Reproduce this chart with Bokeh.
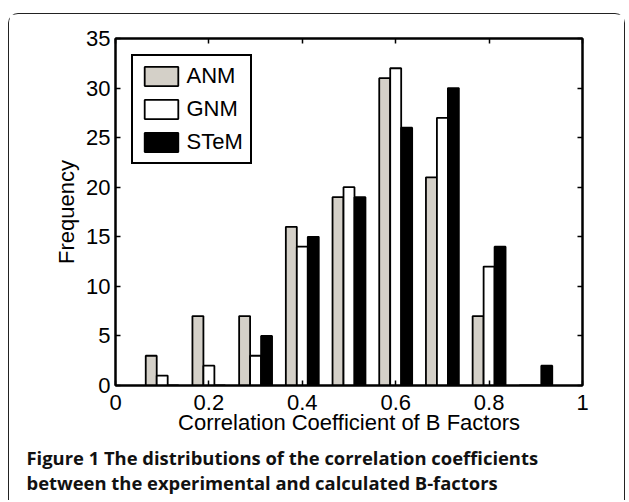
from bokeh.plotting import figure
from bokeh.models import (LinearAxis, Legend, LegendItem, Title,
                          Range1d, FixedTicker, ColumnDataSource)
from bokeh.transform import dodge
from bokeh.embed import file_html
from bokeh.resources import INLINE

# ---------------- data ----------------
bin_centers = [0.1, 0.2, 0.3, 0.4, 0.5, 0.6, 0.7, 0.8, 0.9]
anm = [3, 7, 7, 16, 19, 31, 21, 7, 0]
gnm = [1, 2, 3, 14, 20, 32, 27, 12, 0]
stem = [0, 0, 5, 15, 19, 26, 30, 14, 2]
series_names = ["ANM", "GNM", "STeM"]
series_colors = ["#d4d0c8", "#ffffff", "#000000"]
x_ticks = [0, 0.2, 0.4, 0.6, 0.8, 1]
x_tick_labels = ["0", "0.2", "0.4", "0.6", "0.8", "1"]
y_ticks = [0, 5, 10, 15, 20, 25, 30, 35]
x_label = "Correlation Coefficient of B Factors"
y_label = "Frequency"
caption_line1 = "Figure 1 The distributions of the correlation coefficients"
caption_line2 = "between the experimental and calculated B-factors"

FONT = "Liberation Sans"
CAP_FONT = "Open Sans"
FS = "22px"

W, H = 617, 487
ML, MR, MT, MB = 106, 44, 24, 116

p = figure(width=W, height=H, x_range=Range1d(0, 1), y_range=Range1d(0, 35),
           output_backend="svg", toolbar_location=None,
           min_border_left=ML, min_border_right=MR, min_border_top=MT,
           min_border_bottom=MB)
p.styles = {"margin-left": "7.5px", "margin-top": "12.5px",
            "border": "1.5px solid #222222", "border-bottom": "none",
            "border-radius": "10px 10px 0 0"}
p.grid.visible = False
p.outline_line_color = "black"
p.outline_line_width = 2
p.background_fill_color = "white"
p.border_fill_color = "white"

src = ColumnDataSource(dict(x=bin_centers, anm=anm, gnm=gnm, stem=stem))
bw = 0.0235
offsets = [-bw, 0.0, bw]
cols = ["anm", "gnm", "stem"]
renderers = []
for col, off, color in zip(cols, offsets, series_colors):
    r = p.vbar(x=dodge("x", off), top=col, bottom=0, width=bw, source=src,
               fill_color=color, line_color="black", line_width=1.8)
    renderers.append(r)

xa = p.xaxis[0]
xa.ticker = FixedTicker(ticks=x_ticks)
xa.major_label_overrides = {t: s for t, s in zip(x_ticks, x_tick_labels)}
ya = p.yaxis[0]
ya.ticker = FixedTicker(ticks=y_ticks)
for ax in (xa, ya):
    ax.axis_line_color = "black"
    ax.axis_line_width = 2
    ax.major_tick_in = 5
    ax.major_tick_out = 0
    ax.minor_tick_line_color = None
    ax.major_tick_line_color = "black"
    ax.major_tick_line_width = 1.5
    ax.major_label_text_font = FONT
    ax.major_label_text_font_size = FS
    ax.major_label_text_color = "black"
    ax.axis_label_text_font = FONT
    ax.axis_label_text_font_size = FS
    ax.axis_label_text_font_style = "normal"
    ax.axis_label_text_color = "black"
xa.axis_label = x_label
ya.axis_label = y_label
xa.major_label_standoff = 9
ya.major_label_standoff = 5
xa.axis_label_standoff = -3
ya.axis_label_standoff = 4

for loc, tks in (("right", y_ticks), ("above", x_ticks)):
    ax = LinearAxis(ticker=FixedTicker(ticks=tks))
    ax.axis_line_color = "black"
    ax.axis_line_width = 2
    ax.major_tick_in = 5
    ax.major_tick_out = 0
    ax.minor_tick_line_color = None
    ax.major_tick_line_color = "black"
    ax.major_tick_line_width = 1.5
    ax.major_label_text_color = None
    ax.major_label_text_font_size = "0px"
    p.add_layout(ax, loc)

legend = Legend(items=[LegendItem(label=n, renderers=[r]) for n, r in zip(series_names, renderers)],
                location="top_left")
legend.margin = 16
legend.padding = 7
legend.spacing = 7
legend.glyph_width = 42
legend.glyph_height = 24
legend.label_height = 24
legend.label_standoff = 5
legend.label_text_font = FONT
legend.label_text_font_size = FS
legend.label_text_color = "black"
legend.border_line_color = "black"
legend.border_line_alpha = 1.0
legend.border_line_width = 2
legend.background_fill_color = "white"
legend.background_fill_alpha = 1
p.add_layout(legend, "center")

# caption, two lines, under the x axis
caption = Title(text=caption_line1 + "\n" + caption_line2, align="left", offset=-89,
                standoff=11, text_font=CAP_FONT, text_font_size="18.4px",
                text_font_style="bold", text_color="#111111", text_line_height=1.0)
p.add_layout(caption, "below")

open("out.html", "w").write(file_html(p, INLINE))
